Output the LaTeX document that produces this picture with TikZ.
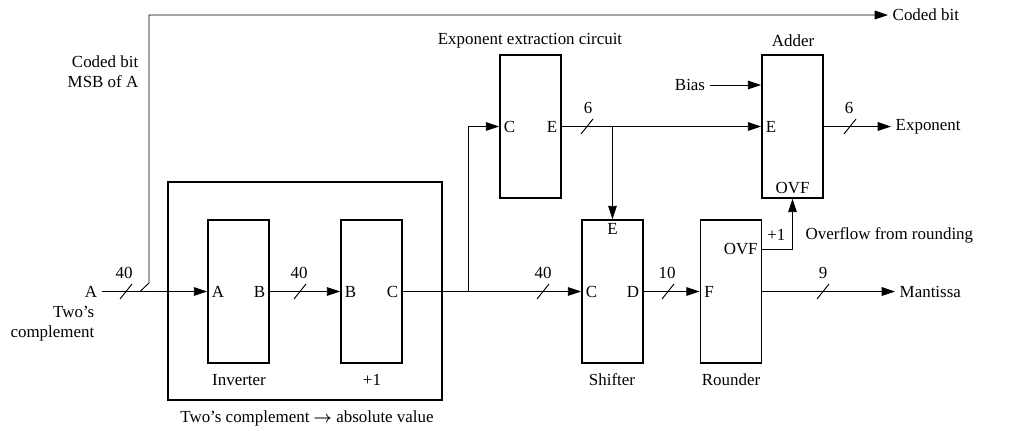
\documentclass[tikz,border=0pt]{standalone}
\usepackage{fontspec}
\setmainfont{Liberation Serif}
\usetikzlibrary{arrows.meta}

\begin{document}
\begin{tikzpicture}[
every node/.style={font=\fontsize{12.7}{15}\selectfont},
x=0.75pt,
y=-0.75pt,
blk/.style={draw,line width=1.3pt,minimum width=45.75pt,minimum height=107.25pt,inner sep=0pt},
wire/.style={line width=0.7pt},
arr/.style={wire,-{Triangle[length=10pt,width=6.5pt]}}
]
\useasboundingbox (0,0) rectangle (1012,430);

% frame round inverter and +1
\node[draw,line width=0.8pt,minimum width=205.5pt,minimum height=163.5pt,inner sep=0pt] (conv) at (305,291) {};
\node (convlbl) at (307,418) {Two's complement {\boldmath$\rightarrow$} absolute value};

% blocks
\node[blk] (inv) at (238.5,291.5) {};
\node[blk] (inc) at (371.5,291.5) {};
\node[blk] (extr) at (530.5,126.5) {};
\node[blk] (add) at (792.5,126.5) {};
\node[blk] (shift) at (612.5,291.5) {};
\node[blk] (round) at (731,291.5) {};

% block names
\node (invlbl) at (239,380) {Inverter};
\node (inclbl) at (372,380) {+1};
\node (shlbl) at (612,380) {Shifter};
\node (rdlbl) at (731,380) {Rounder};
\node (exlbl) at (530,41) {Exponent extraction circuit};
\node (adlbl) at (793,41) {Adder};

% ports
\node[anchor=west] (invA) at (inv.west) {A};
\node[anchor=east] (invB) at (inv.east) {B};
\node[anchor=west] (incB) at (inc.west) {B};
\node[anchor=east] (incC) at (inc.east) {C};
\node[anchor=west] (exC) at (extr.west) {C};
\node[anchor=east] (exE) at (extr.east) {E};
\node[anchor=west] (adE) at (add.west) {E};
\node[anchor=south] (adOVF) at (add.south) {OVF};
\node[anchor=north] (shE) at (shift.north) {E};
\node[anchor=west] (shC) at (shift.west) {C};
\node[anchor=east] (shD) at (shift.east) {D};
\node[anchor=west] (rdF) at (round.west) {F};
\coordinate (ovf) at (round.east |- 0,249);
\node[anchor=east] (rdOVF) at (ovf) {OVF};

% inputs and outputs
\node (a) at (91,291.5) {A};
\node[align=right,anchor=north east] (acomp) at (99,302) {Two's\\complement};
\node[align=right,anchor=east] (msb) at (143,72) {Coded bit\\MSB of A};
\node[anchor=west] (coded) at (888,15) {Coded bit};
\node (bias) at (690,85) {Bias};
\node[anchor=west] (expo) at (891,126.5) {Exponent};
\node[anchor=west] (mant) at (895,291.5) {Mantissa};
\node[anchor=east] (plus) at (790,235) {+1};
\node[anchor=west] (ovfl) at (801,235) {Overflow from rounding};

% bus widths
\node (w1) at (124,273) {40};
\node (w2) at (299,273) {40};
\node (w3) at (543,273) {40};
\node (w4) at (667,273) {10};
\node (w5) at (823,273) {9};
\node (w6) at (588,108) {6};
\node (w7) at (849,108) {6};

% connecting lines
\coordinate (j0) at (140,291.5);
\coordinate (j1) at (468,291.5);
\coordinate (j2) at (612.5,126.5);

\draw[arr] (a) -- (inv);
\draw[arr] (j0) -- (149,283) |- (coded);
\draw[arr] (inv) -- (inc);
\draw[wire] (inc) -- (j1);
\draw[arr] (j1) -- (shift);
\draw[arr] (j1) |- (extr);
\draw[arr] (extr) -- (add);
\draw[arr] (j2) -- (shift);
\draw[arr] (bias) -- (add.west |- bias);
\draw[arr] (add) -- (expo);
\draw[arr] (shift) -- (round);
\draw[arr] (round) -- (mant);
\draw[arr] (ovf) -| (add);

% bus slashes
\draw[wire] (126,291.5) +(-6,7.5) -- +(6,-7.5);
\draw[wire] (300,291.5) +(-6,7.5) -- +(6,-7.5);
\draw[wire] (543,291.5) +(-6,7.5) -- +(6,-7.5);
\draw[wire] (668,291.5) +(-6,7.5) -- +(6,-7.5);
\draw[wire] (823,291.5) +(-6,7.5) -- +(6,-7.5);
\draw[wire] (587,126.5) +(-6,7.5) -- +(6,-7.5);
\draw[wire] (850,126.5) +(-6,7.5) -- +(6,-7.5);

\end{tikzpicture}
\end{document}
